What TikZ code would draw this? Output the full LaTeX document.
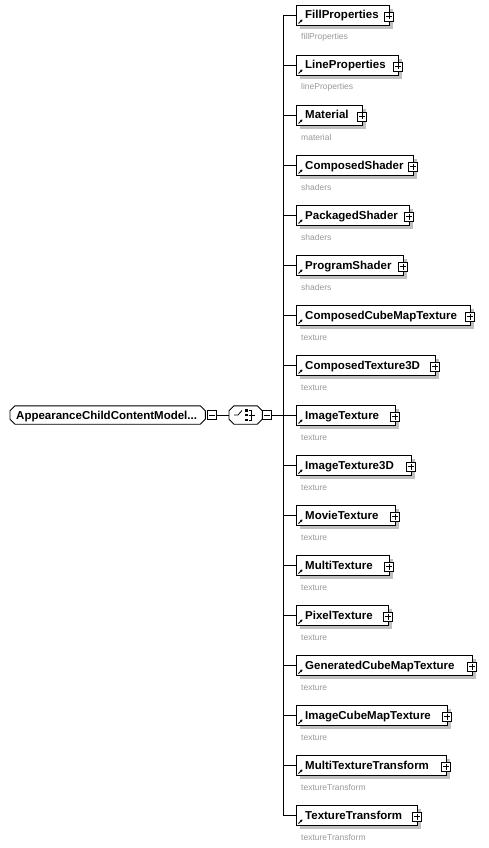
\documentclass[tikz,border=0pt]{standalone}
\usepackage{fontspec}
\setmainfont{Liberation Sans}
\usetikzlibrary{shadows,arrows.meta}
\definecolor{shadowgray}{HTML}{C0C0C0}
\definecolor{subgray}{HTML}{999999}
\tikzset{
  elembox/.style={draw=black, line width=0.9pt, fill=white, minimum height=20pt, inner sep=0pt, anchor=west,
    drop shadow={shadow xshift=4pt, shadow yshift=-4pt, fill=shadowgray, opacity=1}},
  elemname/.style={font=\bfseries\fontsize{11.5}{13}\selectfont, inner sep=0pt, anchor=base west},
  sublabel/.style={font=\fontsize{8.5}{10}\selectfont, text=subgray, inner sep=0pt, anchor=base west},
  plusbox/.style={draw=black, line width=0.6pt, fill=white, minimum size=9pt, inner sep=0pt,
    path picture={\draw[line width=0.6pt] ([xshift=1.5pt]path picture bounding box.west) -- ([xshift=-1.5pt]path picture bounding box.east);
                  \draw[line width=0.6pt] ([yshift=-1.5pt]path picture bounding box.north) -- ([yshift=1.5pt]path picture bounding box.south);}},
  minusbox/.style={draw=black, line width=0.6pt, fill=white, minimum size=9pt, inner sep=0pt,
    path picture={\draw[line width=0.6pt] ([xshift=1.5pt]path picture bounding box.west) -- ([xshift=-1.5pt]path picture bounding box.east);}},
  octarea/.style={draw=none, inner sep=0pt, minimum height=18pt, anchor=west},
  octline/.style={draw=black, line width=0.9pt, fill=white},
  octshadow/.style={fill=shadowgray},
  conn/.style={line width=0.8pt, black},
  refarrow/.style={line width=0.9pt, -{Triangle[length=2.2pt,width=2.6pt]}},
}
\newcommand{\octpath}[2]{%
  ([xshift=#2]#1.north west) -- ([xshift=-#2]#1.north east) -- ([yshift=-#2]#1.north east) --
  ([yshift=#2]#1.south east) -- ([xshift=-#2]#1.south east) -- ([xshift=#2]#1.south west) --
  ([yshift=#2]#1.south west) -- ([yshift=-#2]#1.north west) -- cycle}
\begin{document}
\begin{tikzpicture}[x=1pt,y=-1pt]
\useasboundingbox (0,0) rectangle (489,848);
\fill[white] (0,0) rectangle (489,848);

% left root node
\node[octarea, minimum width=195pt] (root) at (10,415) {};
\begin{scope}[shift={(4,4)}]
\fill[octshadow] \octpath{root}{5pt};
\end{scope}
\draw[octline] \octpath{root}{5pt};
\node[elemname] (roottxt) at (16,419) {AppearanceChildContentModel...};
\node[minusbox] (m1) at (211.5,415) {};
\node[octarea, minimum width=33pt] (choice) at (229,415) {};
\begin{scope}[shift={(4,4)}]
\fill[octshadow] \octpath{choice}{5pt};
\end{scope}
\draw[octline] \octpath{choice}{5pt};
\node[minusbox] (m2) at (266.5,415) {};
\draw[conn] (m1.east) -- (choice.west);
\draw[conn] (choice.east) -- (m2.west);
% choice icon
\draw[line width=0.8pt] (234,415) -- (238,415) -- (242,410.5);
\fill (245,409) rectangle (247.5,411.5);
\fill (245,413.8) rectangle (247.5,416.3);
\fill (245,418.5) rectangle (247.5,421);
\draw[line width=0.8pt] (248.5,410) -- (251,410) -- (251,420) -- (248.5,420);
\draw[line width=0.8pt] (248.5,415) -- (255,415);

% children
\foreach \i/\name/\sub/\rx in {
  1/FillProperties/fillProperties/389,
  2/LineProperties/lineProperties/398,
  3/Material/material/362,
  4/ComposedShader/shaders/413,
  5/PackagedShader/shaders/409,
  6/ProgramShader/shaders/403,
  7/ComposedCubeMapTexture/texture/470,
  8/ComposedTexture3D/texture/435,
  9/ImageTexture/texture/395,
  10/ImageTexture3D/texture/411,
  11/MovieTexture/texture/395,
  12/MultiTexture/texture/389,
  13/PixelTexture/texture/388,
  14/GeneratedCubeMapTexture/texture/472,
  15/ImageCubeMapTexture/texture/447,
  16/MultiTextureTransform/textureTransform/446,
  17/TextureTransform/textureTransform/417}{
  \pgfmathsetmacro{\yy}{15+50*(\i-1)}
  \pgfmathsetmacro{\ww}{\rx-296}
  \coordinate (j\i) at (283,\yy);
  \node[elembox, minimum width=\ww pt] (e\i) at (296,\yy) {};
  \node[elemname] (t\i) at (305,\yy+4) {\name};
  \node[plusbox] (p\i) at (\rx,\yy+1.5) {};
  \node[sublabel] (s\i) at (301,\yy+25) {\sub};
  \draw[refarrow] (298.5,\yy+8.5) -- (302.5,\yy+4.5);
  \draw[conn] (j\i) -- (e\i.west);
}
\draw[conn] (j1) -- (j17);
\draw[conn] (m2.east) -- (j9);
\end{tikzpicture}
\end{document}
